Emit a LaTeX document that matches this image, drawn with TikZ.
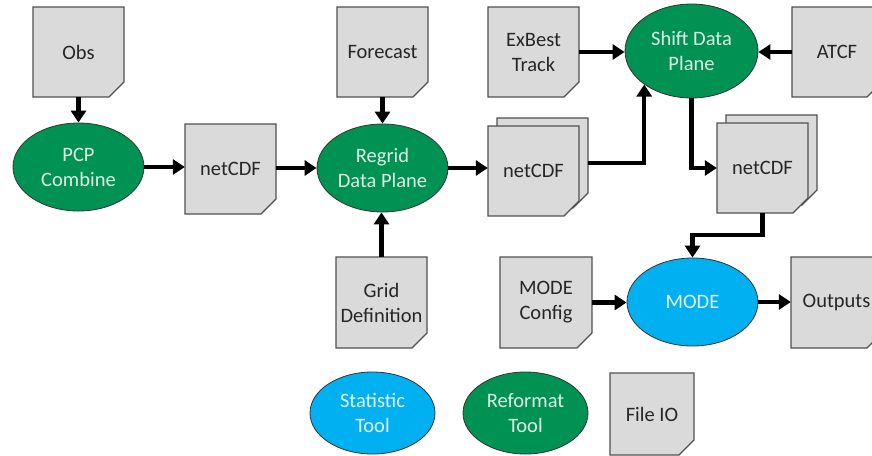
\documentclass[tikz,border=0pt]{standalone}
\usepackage{fontspec}
\setmainfont{Carlito}
\usetikzlibrary{arrows.meta,shapes.geometric}
\definecolor{docfill}{RGB}{218,218,218}
\definecolor{docedge}{RGB}{80,80,80}
\definecolor{doctxt}{RGB}{38,38,38}
\definecolor{toolgreen}{RGB}{0,146,82}
\definecolor{toolblue}{RGB}{0,176,240}
\definecolor{greentxt}{RGB}{222,240,230}
\definecolor{bluetxt}{RGB}{228,244,252}
\newcommand\docshape[4]{%
  \filldraw[docline] (#1,#2) -- (#3,#2) -- (#3,#4-15) -- (#3-15,#4) -- (#1,#4) -- cycle;}
\tikzset{
  docline/.style={fill=docfill,draw=docedge,line width=1.2pt,line join=miter},
  doctext/.style={inner sep=0pt,align=center,text=doctxt,font=\fontsize{20.5}{25}\selectfont},
  tool/.style={ellipse,inner sep=0pt,align=center,draw=black!80,line width=0.8pt,
    font=\fontsize{20.5}{25}\selectfont},
  gtool/.style={tool,fill=toolgreen,text=greentxt},
  btool/.style={tool,fill=toolblue,text=bluetxt},
  arr/.style={line width=4.5pt,-{Triangle[length=12pt,width=15pt]}},
}
\begin{document}
\begin{tikzpicture}[x=1pt,y=-1pt]
\useasboundingbox (0,0) rectangle (872,455);
\clip (0,0) rectangle (872,455);
% documents
\docshape{33}{7}{124}{97}
\node[doctext,minimum width=91pt,minimum height=90pt] (obs) at (78.5,52) {Obs};
\docshape{185}{124}{276}{214}
\node[doctext,minimum width=91pt,minimum height=90pt] (nc1) at (230.5,169) {netCDF};
\docshape{337}{7}{428}{97}
\node[doctext,minimum width=91pt,minimum height=90pt] (fcst) at (382.5,52) {Forecast};
\docshape{488}{7}{579}{97}
\node[doctext,minimum width=91pt,minimum height=90pt] (exb) at (533.5,52) {ExBest\\Track};
\docshape{792}{7}{882}{97}
\node[doctext,minimum width=90pt,minimum height=90pt] (atcf) at (837,52) {ATCF};
\docshape{497}{118}{588}{208}
\node[minimum width=91pt,minimum height=90pt,inner sep=0pt] (nc2b) at (542.5,163) {};
\docshape{488}{126}{579}{216}
\node[doctext,minimum width=91pt,minimum height=90pt] (nc2) at (533.5,171) {netCDF};
\docshape{726}{115}{817}{205}
\node[minimum width=91pt,minimum height=90pt,inner sep=0pt] (nc3b) at (771.5,160) {};
\docshape{717}{123}{808}{213}
\node[doctext,minimum width=91pt,minimum height=90pt] (nc3) at (762.5,168) {netCDF};
\docshape{336}{257}{427}{348}
\node[doctext,minimum width=91pt,minimum height=91pt] (grid) at (381.5,302.5) {Grid\\Definition};
\docshape{500}{257}{592}{348}
\node[doctext,minimum width=92pt,minimum height=91pt] (mcfg) at (546,302.5) {MODE\\Config};
\docshape{791}{257}{882}{348}
\node[doctext,minimum width=91pt,minimum height=91pt] (out) at (836.5,302.5) {Outputs};
\docshape{610}{373}{694}{455}
\node[doctext,minimum width=84pt,minimum height=82pt] (fio) at (652,414) {File IO};
% tools
\node[gtool,minimum width=131pt,minimum height=88pt] (pcp) at (78.5,167) {PCP\\Combine};
\node[gtool,minimum width=131pt,minimum height=88pt] (rdp) at (382.5,168) {Regrid\\Data Plane};
\node[gtool,minimum width=133pt,minimum height=94pt] (sdp) at (691.5,51) {Shift Data\\Plane};
\node[btool,minimum width=131pt,minimum height=88pt] (mode) at (692.5,302) {MODE};
\node[btool,minimum width=125pt,minimum height=82pt] (stat) at (372.5,413) {Statistic\\Tool};
\node[gtool,minimum width=125pt,minimum height=82pt] (refm) at (525.5,413) {Reformat\\Tool};
% connectors
\draw[arr] (obs.south) -- (obs.south |- pcp.north);
\draw[arr] (pcp.east) -- (pcp.east -| nc1.west);
\draw[arr] (nc1.east |- rdp.west) -- (rdp.west);
\draw[arr] (fcst.south) -- (fcst.south |- rdp.north);
\draw[arr] (grid.north) -- (grid.north |- rdp.south);
\draw[arr] (rdp.east) -- (rdp.east -| nc2.west);
\draw[arr] (nc2b.east) -| (sdp.south west);
\draw[arr] (exb.east) -- (exb.east -| sdp.west);
\draw[arr] (atcf.west) -- (atcf.west -| sdp.east);
\draw[arr] (sdp.south) |- (nc3.west);
\draw[arr] (nc3.south) -- ++(0,22) -| (mode.north);
\draw[arr] (mcfg.east) -- (mcfg.east -| mode.west);
\draw[arr] (mode.east) -- (mode.east -| out.west);
\end{tikzpicture}
\end{document}
